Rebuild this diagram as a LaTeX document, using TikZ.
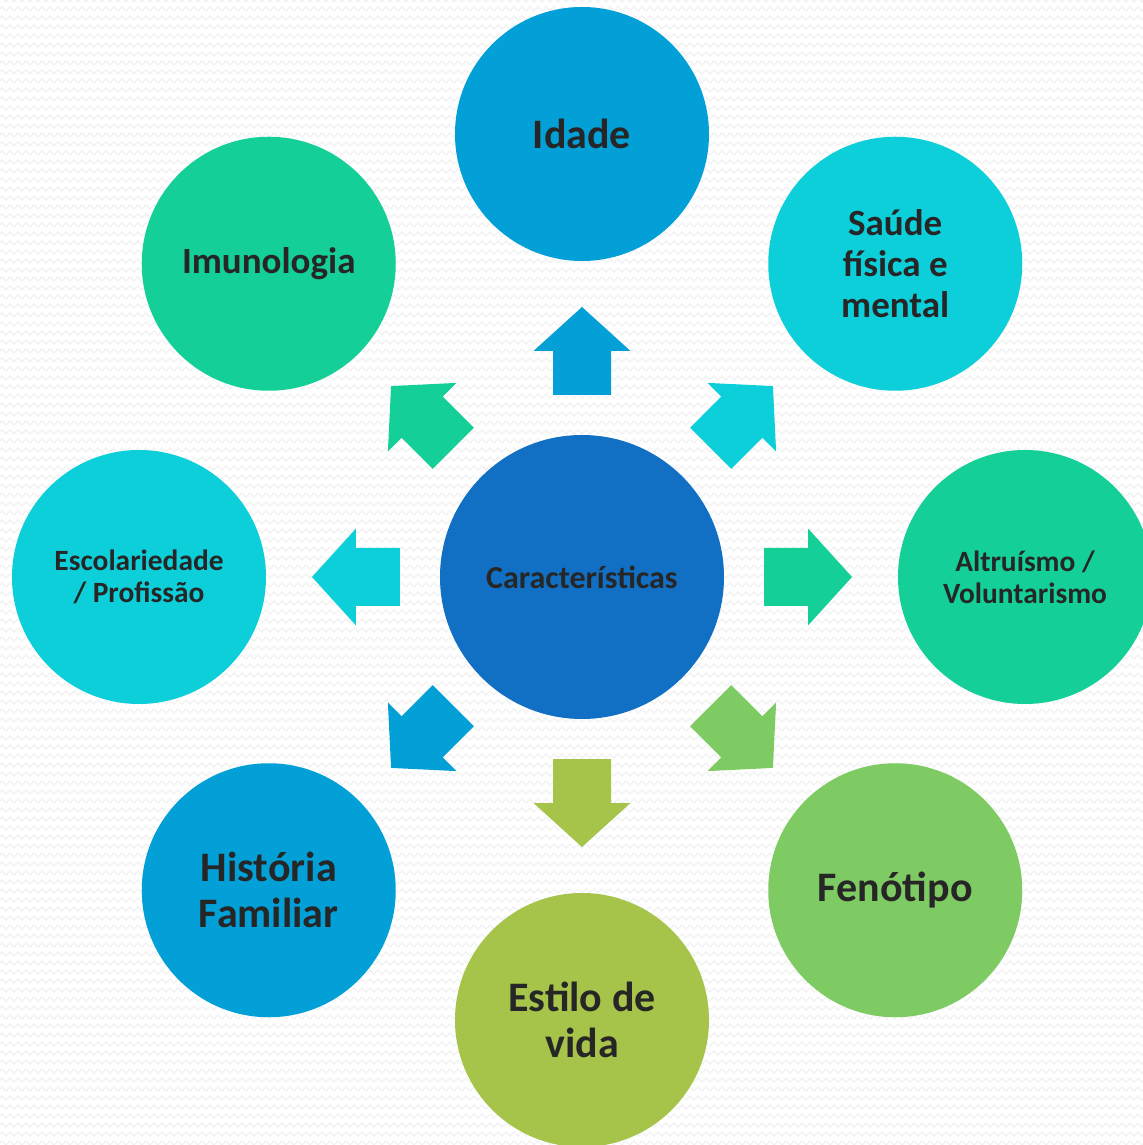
\documentclass[tikz,border=0pt]{standalone}
\usepackage{fontspec}
\setmainfont{Carlito}
\usetikzlibrary{decorations.pathmorphing}
\definecolor{hubblue}{HTML}{1170C4}
\definecolor{skyblue}{HTML}{03A0D7}
\definecolor{aqua}{HTML}{0DCFDA}
\definecolor{mint}{HTML}{14CF97}
\definecolor{leaf}{HTML}{7ECB64}
\definecolor{moss}{HTML}{A6C34A}
\definecolor{ink}{HTML}{262626}
\newcommand\sizeL{\fontsize{21}{23}\selectfont}
\newcommand\sizeM{\fontsize{18.5}{20.5}\selectfont}
\newcommand\sizeS{\fontsize{14.7}{16}\selectfont}
\tikzset{
  bubble/.style = {circle, minimum size=127pt, inner sep=0pt, align=center, text=ink, font=\bfseries},
  hub/.style = {circle, minimum size=142pt, inner sep=0pt, fill=hubblue, text=ink, font=\bfseries\fontsize{16}{18}\selectfont}
}
\begin{document}
\begin{tikzpicture}[x=0.5pt,y=0.5pt]
\useasboundingbox (-582,-568) rectangle (561,577);
% background
\fill[white] (-582,-568) rectangle (561,577);
\foreach \row in {-566,-557,...,577} \draw[black!5, line width=0.7pt, decorate, decoration={zigzag, segment length=4pt, amplitude=1pt}] (-590,\row) -- (570,\row);
% centre
\node[hub] (hub) at (0,0) {Características};
% arrows
\foreach \ang/\col in {90/skyblue, 45/aqua, 0/mint, -45/leaf, -90/moss, -135/skyblue, 180/aqua, 135/mint}
  \fill[\col, rotate=\ang] (182,-29) -- (226,-29) -- (226,-48.5) -- (270,0) -- (226,48.5) -- (226,29) -- (182,29) -- cycle;
% outer circles
\node[bubble, fill=skyblue, font=\bfseries\sizeL] (idade) at (90:443) {Idade};
\node[bubble, fill=aqua, font=\bfseries\sizeM] (saude) at (45:443) {Saúde\\física e\\mental};
\node[bubble, fill=mint, font=\bfseries\sizeS] (altruismo) at (0:443) {Altruísmo /\\Voluntarismo};
\node[bubble, fill=leaf, font=\bfseries\sizeL] (fenotipo) at (-45:443) {Fenótipo};
\node[bubble, fill=moss, font=\bfseries\sizeL] (estilo) at (-90:443) {Estilo de\\vida};
\node[bubble, fill=skyblue, font=\bfseries\sizeL] (historia) at (-135:443) {História\\Familiar};
\node[bubble, fill=aqua, font=\bfseries\sizeS] (escola) at (180:443) {Escolariedade\\/ Profissão};
\node[bubble, fill=mint, font=\bfseries\sizeM] (imuno) at (135:443) {Imunologia};
\end{tikzpicture}
\end{document}
